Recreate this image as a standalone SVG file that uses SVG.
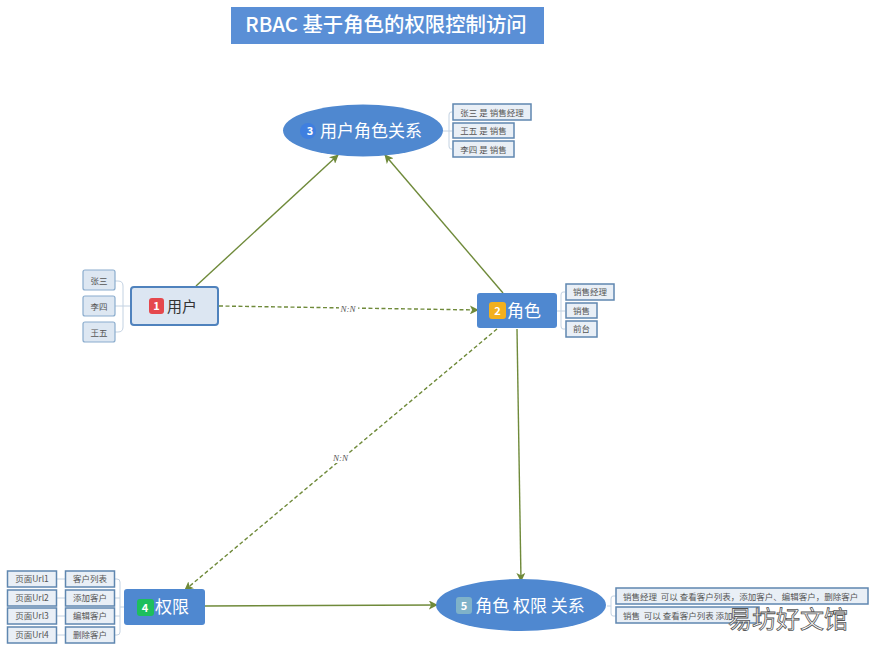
<svg xmlns="http://www.w3.org/2000/svg" width="875" height="651" viewBox="0 0 875 651">
<style>
text{font-family:"Noto Sans CJK SC","Liberation Sans",sans-serif;text-anchor:middle}
.main{fill:#4f88d0}
.mt{fill:#fff;font-size:17px}
.sub{fill:#e9eff6;stroke:#5f87b0;stroke-width:1.5}
.sub2{fill:#dde7f2;stroke:#8aaccd;stroke-width:1.2}
.st{fill:#555;font-size:8.5px}
.tree{fill:none;stroke:#c3d2e2;stroke-width:1}
.c{fill:none;stroke:#6f8a3a;stroke-width:1.4;marker-end:url(#a)}
.d{stroke-dasharray:4 2.5}
.nn{font-family:"Liberation Serif",serif;font-style:italic;font-size:9px;fill:#555}
.badge{font-size:11px;fill:#fff;font-weight:700}
</style>
<defs><marker id="a" viewBox="0 0 10 10" refX="9" refY="5" markerWidth="9" markerHeight="9" markerUnits="userSpaceOnUse" orient="auto"><path d="M0 0L10 5L0 10L2.5 5Z" fill="#6f8a3a"/></marker></defs>
<rect width="875" height="651" fill="#fff"/>
<g id="title"><rect x="231" y="7" width="313" height="37" fill="#5a8fd6"/><text x="386" y="32" fill="#fff" font-size="20.400" font-weight="500">RBAC 基于角色的权限控制访问</text></g>
<g id="connectors">
<path class="c" d="M196 286L338 155"/>
<path class="c" d="M503 293L385 155"/>
<path class="c d" d="M219 306L478 310"/>
<path class="c d" d="M497 329L185 590"/>
<path class="c" d="M517 329L521 581"/>
<path class="c" d="M205 606L437 605"/>
<rect x="339" y="304" width="19" height="10" fill="#fff"/><text class="nn" x="348" y="312">N:N</text>
<rect x="331" y="453" width="19" height="10" fill="#fff"/><text class="nn" x="340.500" y="461">N:N</text>
</g>
<g id="node-user">
<path class="tree" d="M131 306H123M115 281H118Q123 281 123 286V327Q123 332 118 332H115M115 306H123"/>
<rect x="83" y="270" width="32" height="20" rx="2" class="sub2"/><text class="st" x="99" y="284">张三</text>
<rect x="83" y="296" width="32" height="20" rx="2" class="sub2"/><text class="st" x="99" y="310">李四</text>
<rect x="83" y="322" width="32" height="20" rx="2" class="sub2"/><text class="st" x="99" y="336">王五</text>
<rect x="131" y="287" width="87" height="38" rx="3" fill="#dce6f2" stroke="#4f82bd" stroke-width="2"/>
<rect x="149" y="298" width="15" height="16" rx="3" fill="#e5484d"/><text class="badge" x="156.500" y="310">1</text>
<text x="182" y="312" font-size="15" fill="#333">用户</text>
</g>
<g id="node-role">
<path class="tree" d="M557 311H561M565 292H563Q561 292 561 295V326Q561 329 563 329H565M561 311H565"/>
<rect x="566" y="284" width="48" height="16" class="sub"/><text class="st" x="590" y="295">销售经理</text>
<rect x="566" y="303" width="31" height="15" class="sub"/><text class="st" x="581.500" y="314">销售</text>
<rect x="566" y="321" width="31" height="16" class="sub"/><text class="st" x="581.500" y="332">前台</text>
<rect x="477" y="293" width="80" height="35" rx="3" class="main"/>
<rect x="489" y="302" width="17" height="17" rx="3" fill="#f2b01e"/><text class="badge" x="497.500" y="315">2</text>
<text class="mt" x="524" y="317">角色</text>
</g>
<g id="node-user-role">
<path class="tree" d="M443 131H449M452 112H451Q449 112 449 115V146Q449 149 451 149H452M449 131H452"/>
<rect x="453" y="104" width="78" height="16" class="sub"/><text class="st" x="492" y="115.500">张三 是 销售经理</text>
<rect x="453" y="123" width="61" height="15" class="sub"/><text class="st" x="483.500" y="134">王五 是 销售</text>
<rect x="453" y="141" width="61" height="16" class="sub"/><text class="st" x="483.500" y="152.500">李四 是 销售</text>
<ellipse cx="363" cy="130.500" rx="80" ry="26" class="main"/>
<circle cx="308" cy="131" r="8" fill="#3f7fe0"/><text class="badge" x="310" y="135">3</text>
<text class="mt" x="371" y="137">用户角色关系</text>
</g>
<g id="node-permission">
<path class="tree" d="M124 607H120M115 579H117Q120 579 120 582V632Q120 635 117 635H115M115 598H120M115 616H120M57 579H65M57 598H65M57 616H65M57 635H65"/>
<rect x="7.500" y="571" width="49" height="16" class="sub"/><text class="st" x="32" y="582">页面Url1</text>
<rect x="7.500" y="590" width="49" height="16" class="sub"/><text class="st" x="32" y="601">页面Url2</text>
<rect x="7.500" y="608" width="49" height="16" class="sub"/><text class="st" x="32" y="619">页面Url3</text>
<rect x="7.500" y="627" width="49" height="16" class="sub"/><text class="st" x="32" y="638">页面Url4</text>
<rect x="65.500" y="571" width="49" height="16" class="sub"/><text class="st" x="90" y="582">客户列表</text>
<rect x="65.500" y="590" width="49" height="16" class="sub"/><text class="st" x="90" y="601">添加客户</text>
<rect x="65.500" y="608" width="49" height="16" class="sub"/><text class="st" x="90" y="619">编辑客户</text>
<rect x="65.500" y="627" width="49" height="16" class="sub"/><text class="st" x="90" y="638">删除客户</text>
<rect x="124" y="589" width="81" height="36" rx="3" class="main"/>
<rect x="137" y="599" width="17" height="17" rx="3" fill="#1dbf5c"/><text class="badge" x="145" y="612">4</text>
<text class="mt" x="172" y="613">权限</text>
</g>
<g id="node-role-permission">
<path class="tree" d="M607 606H611M616 596H613Q611 596 611 599V613Q611 616 613 616H616"/>
<rect x="616" y="588" width="252" height="16" class="sub"/><text class="st" x="623" y="599.500" style="text-anchor:start" xml:space="preserve">销售经理  可以 查看客户列表，添加客户、编辑客户，删除客户</text>
<rect x="616" y="607" width="143" height="16" class="sub"/><text class="st" x="623" y="618.500" style="text-anchor:start" xml:space="preserve">销售  可以 查看客户列表 添加</text>
<ellipse cx="521" cy="605" rx="85" ry="26" class="main"/>
<rect x="456" y="597" width="16" height="17" rx="3" fill="#7fb2c9"/><text class="badge" x="464" y="610">5</text>
<text class="mt" x="530" y="612">角色 权限 关系</text>
</g>
<text x="788" y="628" font-size="24" fill="#fff" stroke="#555" stroke-width="0.8">易坊好文馆</text>
</svg>
